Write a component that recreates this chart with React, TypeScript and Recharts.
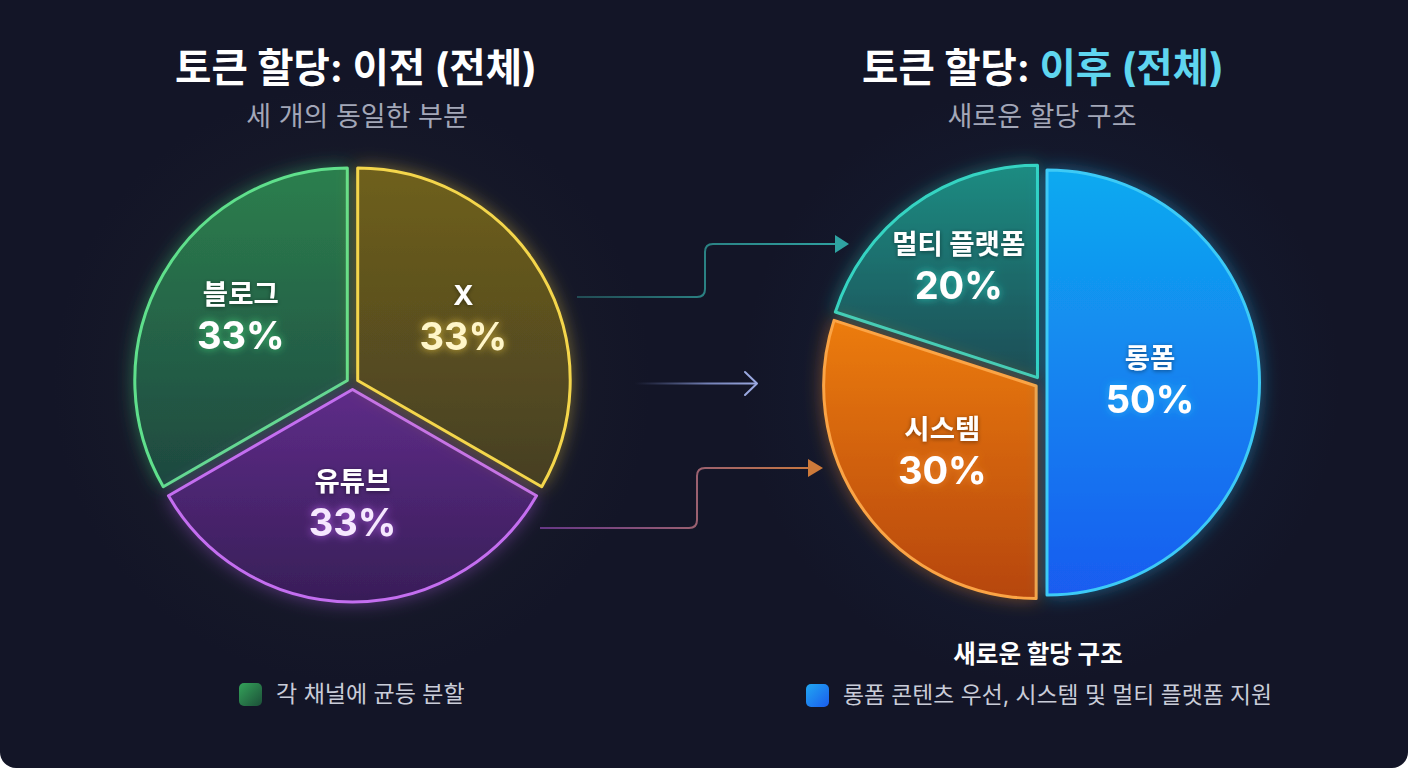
import React from 'react';
import { PieChart, Pie, Cell } from 'recharts';

// ---------- data ----------
const beforeCategories = ['블로그', '유튜브', 'X'];
const beforeValues = [33, 33, 33];
const beforeLabels = ['33%', '33%', '33%'];

const afterCategories = ['멀티 플랫폼', '시스템', '롱폼'];
const afterValues = [20, 30, 50];
const afterLabels = ['20%', '30%', '50%'];

const titleLeftMain = '토큰 할당: ';
const titleLeftAccent = '이전 (전체)';
const subtitleLeft = '세 개의 동일한 부분';
const titleRightMain = '토큰 할당: ';
const titleRightAccent = '이후 (전체)';
const subtitleRight = '새로운 할당 구조';
const legendLeftText = '각 채널에 균등 분할';
const legendRightTitle = '새로운 할당 구조';
const legendRightText = '롱폼 콘텐츠 우선, 시스템 및 멀티 플랫폼 지원';

// ---------- styles ----------
const beforeStyles = [
  { top: '#2c7f4e', bottom: '#1e4840', stroke: '#5fe08c', glow: '#3fd47a', pct: '#ffffff', labelDist: 123 },
  { top: '#5e2c88', bottom: '#381e58', stroke: '#c46ef0', glow: '#b25ee8', pct: '#f6e8ff', labelDist: 116 },
  { top: '#6f601d', bottom: '#463f22', stroke: '#f4d64c', glow: '#e8c43a', pct: '#fff6c8', labelDist: 122 },
];
const afterStyles = [
  { top: '#1a8c82', bottom: '#1a4c55', stroke: '#36d4c2', glow: '#2cc8b8', pct: '#ffffff', labelDist: 134 },
  { top: '#ec7c10', bottom: '#b6460f', stroke: '#fba444', glow: '#f08a2a', pct: '#ffffff', labelDist: 116 },
  { top: '#0eaaf0', bottom: '#1a5cf0', stroke: '#3ccaf6', glow: '#22b8f4', pct: '#ffffff', labelDist: 103 },
];

const FONT = "Inter, 'Noto Sans CJK KR', 'Noto Sans', sans-serif";
const LEFT = { cx: 352.5, cy: 383.5 };
const RIGHT = { cx: 1041, cy: 382.5 };
const RADIUS = 212.5;
const EXPLODE = 6;
const RAD = Math.PI / 180;

const beforeData = beforeCategories.map((name, i) => ({ name, value: beforeValues[i], pctLabel: beforeLabels[i] }));
const afterData = afterCategories.map((name, i) => ({ name, value: afterValues[i], pctLabel: afterLabels[i] }));

function offsets(values: number[], start = 90) {
  const total = values.reduce((a, b) => a + b, 0);
  let acc = 0;
  return values.map((v) => {
    const mid = start + ((acc + v / 2) / total) * 360;
    acc += v;
    return { dx: EXPLODE * Math.cos(mid * RAD), dy: -EXPLODE * Math.sin(mid * RAD) };
  });
}

function makeLabel(layer: number, prefix: string, styles: any[]) {
  return (props: any) => {
    const { cx, cy, midAngle, index, payload } = props;
    if (index !== layer) return <g />;
    const s = styles[index];
    const x = cx + s.labelDist * Math.cos(-midAngle * RAD);
    const y = cy + s.labelDist * Math.sin(-midAngle * RAD);
    const p = payload && payload.payload ? payload.payload : payload;
    return (
      <g>
        <text x={x} y={y - 25} textAnchor="middle" dominantBaseline="central" fill="#ffffff"
          fontFamily={FONT} fontWeight={700} fontSize={27.5} filter={`url(#tshadow)`}>
          {p.name}
        </text>
        <text x={x} y={y + 16} textAnchor="middle" dominantBaseline="central" fill={s.pct}
          fontFamily={FONT} fontWeight={700} fontSize={38} filter={`url(#${prefix}t${index})`}>
          {p.pctLabel}
        </text>
      </g>
    );
  };
}

function PieLayers({ data, styles, center, prefix }: any) {
  const off = offsets(data.map((d: any) => d.value));
  return data.map((_: any, i: number) => (
    <Pie
      key={prefix + i}
      data={data}
      dataKey="value"
      nameKey="name"
      cx={center.cx + off[i].dx}
      cy={center.cy + off[i].dy}
      innerRadius={0}
      outerRadius={RADIUS}
      startAngle={90}
      endAngle={450}
      isAnimationActive={false}
      labelLine={false}
      label={makeLabel(i, prefix, styles)}
    >
      {data.map((d: any, j: number) => (
        <Cell
          key={j}
          fill={j === i ? `url(#${prefix}g${j})` : 'none'}
          stroke={j === i ? styles[j].stroke : 'none'}
          strokeWidth={3}
          strokeLinejoin="round"
          filter={j === i ? `url(#${prefix}f${j})` : undefined}
        />
      ))}
    </Pie>
  ));
}

function Defs() {
  const groups: [string, any[]][] = [['b', beforeStyles], ['a', afterStyles]];
  return (
    <defs>
      <filter id="tshadow" x="-30%" y="-50%" width="160%" height="200%">
        <feDropShadow dx="0" dy="1" stdDeviation="2" floodColor="#000000" floodOpacity="0.45" />
      </filter>
      {groups.map(([p, styles]) =>
        styles.map((s, i) => (
          <React.Fragment key={p + i}>
            <linearGradient id={`${p}g${i}`} x1="0" y1="0" x2="0" y2="1">
              <stop offset="0%" stopColor={s.top} />
              <stop offset="100%" stopColor={s.bottom} />
            </linearGradient>
            <filter id={`${p}f${i}`} x="-25%" y="-25%" width="150%" height="150%">
              <feDropShadow dx="0" dy="0" stdDeviation="9" floodColor={s.glow} floodOpacity="0.45" />
            </filter>
            <filter id={`${p}t${i}`} x="-30%" y="-50%" width="160%" height="200%">
              <feDropShadow dx="0" dy="0" stdDeviation="4" floodColor={s.glow} floodOpacity="0.9" />
            </filter>
          </React.Fragment>
        ))
      )}
    </defs>
  );
}

function Arrows() {
  return (
    <svg width={1408} height={768} style={{ position: 'absolute', left: 0, top: 0 }}>
      <defs>
        <linearGradient id="arTop" gradientUnits="userSpaceOnUse" x1="577" y1="0" x2="848" y2="0">
          <stop offset="0%" stopColor="#2a6f72" stopOpacity="0.6" />
          <stop offset="50%" stopColor="#2b8486" />
          <stop offset="100%" stopColor="#2fa3a2" />
        </linearGradient>
        <linearGradient id="arMid" gradientUnits="userSpaceOnUse" x1="635" y1="0" x2="757" y2="0">
          <stop offset="0%" stopColor="#6a78b0" stopOpacity="0" />
          <stop offset="60%" stopColor="#7f8dc6" stopOpacity="0.9" />
          <stop offset="100%" stopColor="#9aa8e0" />
        </linearGradient>
        <linearGradient id="arBot" gradientUnits="userSpaceOnUse" x1="540" y1="0" x2="823" y2="0">
          <stop offset="0%" stopColor="#7a3f9c" stopOpacity="0.8" />
          <stop offset="55%" stopColor="#9a6070" />
          <stop offset="100%" stopColor="#cd7a3a" />
        </linearGradient>
      </defs>
      <path d="M577 297 H697 Q705 297 705 289 V252 Q705 244 713 244 H838" fill="none" stroke="url(#arTop)" strokeWidth={2} />
      <path d="M835 235 L849 244 L835 253 Z" fill="#2fa3a2" />
      <path d="M635 383.5 H756" fill="none" stroke="url(#arMid)" strokeWidth={2} />
      <path d="M745 372 L757 383.5 L745 395" fill="none" stroke="#9aa8e0" strokeWidth={2} strokeLinecap="round" strokeLinejoin="round" />
      <path d="M540 528 H689 Q697 528 697 520 V476 Q697 468 705 468 H812" fill="none" stroke="url(#arBot)" strokeWidth={2} />
      <path d="M808 459 L823 468 L808 477 Z" fill="#cd7a3a" />
    </svg>
  );
}

function CenterText({ x, y, size, weight, color, children }: any) {
  return (
    <div
      style={{
        position: 'absolute',
        left: x,
        top: y - size * 0.6,
        transform: 'translateX(-50%)',
        whiteSpace: 'nowrap',
        fontFamily: FONT,
        fontSize: size,
        fontWeight: weight,
        color,
        lineHeight: 1.2,
      }}
    >
      {children}
    </div>
  );
}

function LegendRow({ x, y, top, bottom, text, size }: any) {
  return (
    <div style={{ position: 'absolute', left: x, top: y - 12, height: 24, display: 'flex', alignItems: 'center' }}>
      <div style={{ width: 23, height: 23, borderRadius: 5, background: `linear-gradient(135deg, ${top}, ${bottom})` }} />
      <div style={{ marginLeft: 14, fontFamily: FONT, fontSize: size, color: '#c9ccd8', whiteSpace: 'nowrap', lineHeight: 1 }}>
        {text}
      </div>
    </div>
  );
}

export default function App() {
  return (
    <div style={{ position: 'fixed', left: 0, top: 0, width: 1408, height: 768, background: '#ffffff' }}>
      <div
        style={{
          position: 'absolute',
          left: 0,
          top: 0,
          width: 1408,
          height: 768,
          borderRadius: '0 0 16px 16px',
          overflow: 'hidden',
          background: '#131527',
        }}
      >
        <div
          style={{
            position: 'absolute',
            inset: 0,
            background:
              'radial-gradient(circle at 352px 383px, rgba(60,70,60,0.25) 0px, rgba(19,21,39,0) 300px), radial-gradient(circle at 1041px 383px, rgba(30,70,110,0.25) 0px, rgba(19,21,39,0) 300px)',
          }}
        />
        <Arrows />
        <div style={{ position: 'absolute', left: 0, top: 0 }}>
          <PieChart width={1408} height={768} margin={{ top: 0, right: 0, bottom: 0, left: 0 }}>
            <Defs />
            {PieLayers({ data: beforeData, styles: beforeStyles, center: LEFT, prefix: 'b' })}
            {PieLayers({ data: afterData, styles: afterStyles, center: RIGHT, prefix: 'a' })}
          </PieChart>
        </div>

        <CenterText x={356} y={69} size={39.5} weight={700} color="#ffffff">
          {titleLeftMain}
          {titleLeftAccent}
        </CenterText>
        <CenterText x={357} y={117} size={27} weight={400} color="#a3a7b8">
          {subtitleLeft}
        </CenterText>
        <CenterText x={1043} y={69} size={39.5} weight={700} color="#ffffff">
          {titleRightMain}
          <span style={{ color: '#5fd6ef' }}>{titleRightAccent}</span>
        </CenterText>
        <CenterText x={1042} y={117} size={27} weight={400} color="#a3a7b8">
          {subtitleRight}
        </CenterText>

        <LegendRow x={239} y={694} top="#34a35a" bottom="#1c4f38" text={legendLeftText} size={23} />
        <CenterText x={1038} y={655} size={24.5} weight={700} color="#ffffff">
          {legendRightTitle}
        </CenterText>
        <LegendRow x={806} y={695} top="#21a8f2" bottom="#1a5ced" text={legendRightText} size={22.8} />
      </div>
    </div>
  );
}
